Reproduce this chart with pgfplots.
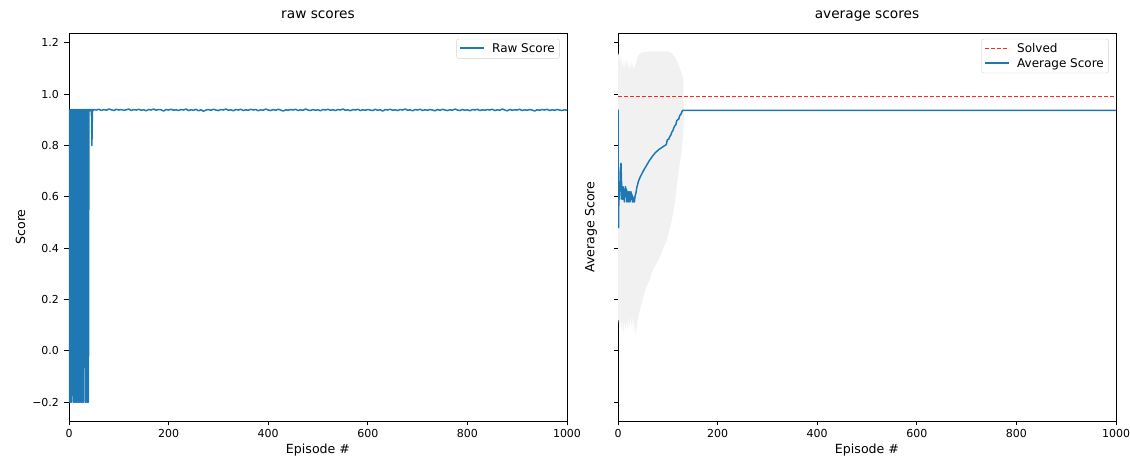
\documentclass[border=0pt]{standalone}
\usepackage{fontspec}
\setmainfont{DejaVu Sans}
\usepackage{pgfplots}
\pgfplotsset{compat=1.18}
\definecolor{mplblue}{HTML}{1F77B4}
\definecolor{bandgray}{RGB}{241,241,241}
\definecolor{solvedred}{RGB}{255,40,40}
\begin{document}
\begin{tikzpicture}
\useasboundingbox (-69pt,-41pt) rectangle (1061pt,421pt);
\pgfplotsset{
  every axis/.append style={
    anchor=south west,
    scale only axis, width=498pt, height=388pt,
    xmin=0, xmax=1000, ymin=-0.273, ymax=1.238,
    xtick={0,200,400,600,800,1000},
    ytick={-0.2,0,0.2,0.4,0.6,0.8,1.0,1.2},
    tick align=outside, tick pos=left,
    major tick length=4.5pt,
    tick style={black, line width=0.8pt},
    axis line style={line width=0.8pt},
    /pgf/number format/assume math mode=true,
    /pgf/number format/1000 sep={},
    tick label style={font=\fontsize{11}{13}\selectfont},
    yticklabel style={xshift=-2pt},
    label style={font=\fontsize{12.6}{15}\selectfont},
    title style={font=\fontsize{13.7}{16}\selectfont, at={(0.5,1)}, anchor=base, yshift=8pt},
    legend style={font=\fontsize{12}{14}\selectfont, at={(0.985,0.985)}, anchor=north east,
      draw=black!18, rounded corners=2pt, row sep=0pt, inner sep=2.5pt,
      /tikz/every odd column/.append style={column sep=5pt}},
    legend image code/.code={\draw[#1] (0pt,0.3pt) -- (24pt,0.3pt);},
    legend cell align=left,
  }
}
% ---------------- left: raw scores ----------------
\begin{axis}[
  at={(0pt,0pt)},
  title={raw scores},
  xlabel={Episode \#}, ylabel={Score},
  yticklabels={−0.2,0.0,0.2,0.4,0.6,0.8,1.0,1.2},
]
\addlegendimage{mplblue, line width=2pt, yshift=0.5pt}
\addlegendentry{Raw Score}
\addplot[mplblue, line width=1.5pt, line join=round, forget plot] coordinates {
(0,0.94)(1,-0.2)(2,0.94)(3,-0.2)(4,0.94)(5,-0.2)(6,0.94)(7,0.94)(8,0.94)(9,-0.2)
(10,0.94)(11,-0.2)(12,0.94)(13,-0.2)(14,0.94)(15,-0.2)(16,0.94)(17,-0.2)(18,0.94)(19,-0.2)
(20,0.94)(21,-0.2)(22,0.94)(23,-0.2)(24,0.94)(25,-0.2)(26,0.94)(27,-0.2)(28,0.94)(29,-0.2)
(30,0.94)(31,0.94)(32,0.94)(33,-0.2)(34,0.94)(35,-0.2)(36,0.94)(37,-0.2)(38,0.94)(39,-0.2)
(40,0.94)(41,0.94)(42,0.935)(43,0.94)(44,0.938)(45,0.94)(46,0.80)(47,0.936)(48,0.94)(49,0.937)
(50,0.94)(55,0.938)(60,0.941)(65,0.936)(70,0.940)(75,0.937)(80,0.942)(85,0.939)(90,0.936)(95,0.941)
(100,0.938)(105,0.940)(110,0.937)(115,0.939)(120,0.942)(125,0.936)(130,0.940)(135,0.938)(140,0.941)(145,0.937)
(150,0.939)(155,0.935)(160,0.940)(165,0.938)(170,0.942)(175,0.937)(180,0.940)(185,0.939)(190,0.934)(195,0.940)
(200,0.938)(205,0.941)(210,0.937)(215,0.939)(220,0.936)(225,0.940)(230,0.938)(235,0.942)(240,0.936)(245,0.939)
(250,0.937)(255,0.941)(260,0.935)(265,0.939)(270,0.933)(275,0.938)(280,0.940)(285,0.937)(290,0.941)(295,0.938)
(300,0.936)(305,0.940)(310,0.938)(315,0.942)(320,0.937)(325,0.939)(330,0.935)(335,0.940)(340,0.938)(345,0.941)
(350,0.936)(355,0.939)(360,0.937)(365,0.941)(370,0.938)(375,0.940)(380,0.935)(385,0.939)(390,0.937)(395,0.942)
(400,0.938)(405,0.936)(410,0.940)(415,0.937)(420,0.941)(425,0.938)(430,0.934)(435,0.939)(440,0.937)(445,0.940)
(450,0.938)(455,0.941)(460,0.936)(465,0.939)(470,0.937)(475,0.942)(480,0.938)(485,0.936)(490,0.940)(495,0.937)
(500,0.939)(505,0.935)(510,0.940)(515,0.938)(520,0.941)(525,0.937)(530,0.939)(535,0.936)(540,0.940)(545,0.938)
(550,0.942)(555,0.937)(560,0.939)(565,0.935)(570,0.940)(575,0.938)(580,0.941)(585,0.936)(590,0.939)(595,0.937)
(600,0.940)(605,0.938)(610,0.936)(615,0.941)(620,0.937)(625,0.939)(630,0.934)(635,0.940)(640,0.938)(645,0.941)
(650,0.937)(655,0.939)(660,0.936)(665,0.940)(670,0.938)(675,0.942)(680,0.937)(685,0.939)(690,0.935)(695,0.940)
(700,0.938)(705,0.941)(710,0.936)(715,0.939)(720,0.937)(725,0.940)(730,0.938)(735,0.935)(740,0.940)(745,0.937)
(750,0.941)(755,0.938)(760,0.936)(765,0.939)(770,0.937)(775,0.942)(780,0.938)(785,0.936)(790,0.940)(795,0.937)
(800,0.939)(805,0.935)(810,0.940)(815,0.938)(820,0.941)(825,0.936)(830,0.939)(835,0.937)(840,0.940)(845,0.938)
(850,0.941)(855,0.936)(860,0.939)(865,0.937)(870,0.942)(875,0.938)(880,0.935)(885,0.940)(890,0.937)(895,0.939)
(900,0.938)(905,0.941)(910,0.936)(915,0.939)(920,0.937)(925,0.940)(930,0.938)(935,0.934)(940,0.939)(945,0.937)
(950,0.940)(955,0.938)(960,0.941)(965,0.936)(970,0.939)(975,0.937)(980,0.940)(985,0.938)(990,0.936)(995,0.939)
(1000,0.937)
};
\end{axis}
% ---------------- right: average scores ----------------
\begin{axis}[
  at={(549pt,0pt)},
  title={average scores},
  xlabel={Episode \#}, ylabel={Average Score},
  yticklabels={},
  ylabel shift=4pt,
]
\addlegendimage{solvedred, line width=1pt, dash pattern=on 4pt off 2pt}
\addlegendentry{Solved}
\addlegendimage{mplblue, line width=1.8pt}
\addlegendentry{Average Score}
\addplot[fill=bandgray, draw=none, forget plot] coordinates {
(0,1.15)(2,1.16)(4,1.12)(6,1.15)(8,1.10)(10,1.14)(12,1.09)(14,1.13)(16,1.11)(18,1.14)
(20,1.10)(22,1.12)(24,1.09)(26,1.13)(28,1.10)(30,1.12)(32,1.09)(34,1.11)(36,1.12)(38,1.14)
(42,1.155)(48,1.162)(60,1.165)(80,1.167)(100,1.166)(108,1.16)(112,1.15)(117,1.135)(121,1.116)
(125,1.095)(128,1.08)(131,1.06)(131.5,0.95)(133,0.937)
(131.5,0.87)(130,0.82)(128,0.78)(124,0.73)(121,0.69)(118,0.64)(115,0.587)(112,0.55)(108,0.509)
(103,0.47)(98,0.432)(91,0.40)(84,0.367)(76,0.335)(69,0.31)(64,0.28)(55,0.238)(48,0.19)(41,0.134)
(38,0.10)(36,0.06)(35,0.08)(34,0.12)(33,0.065)(32,0.13)(30,0.08)(29,0.14)(27,0.09)(25,0.14)
(23,0.09)(21,0.13)(19,0.08)(17,0.12)(15,0.08)(13,0.12)(11,0.07)(9,0.11)(7,0.08)(5,0.12)
(3,0.09)(1,0.12)(0,0.12)
} -- cycle;
\addplot[solvedred, line width=1pt, dash pattern=on 4pt off 2pt, forget plot] coordinates {(0,0.99)(1000,0.99)};
\addplot[mplblue, line width=1.5pt, line join=round, forget plot] coordinates {
(0,0.94)(1,0.48)(2,0.65)(3,0.59)(4,0.62)(5,0.70)(6,0.73)(7,0.66)(8,0.59)(9,0.62)
(10,0.64)(11,0.59)(12,0.63)(13,0.58)(14,0.62)(15,0.64)(16,0.60)(17,0.63)(18,0.58)(19,0.61)
(20,0.62)(21,0.58)(22,0.61)(23,0.62)(24,0.58)(25,0.60)(26,0.62)(27,0.59)(28,0.61)(29,0.58)
(30,0.60)(31,0.58)(32,0.59)(33,0.58)(34,0.60)(36,0.615)(38,0.638)(41,0.66)(44,0.675)(48,0.69)
(52,0.705)(56,0.718)(62,0.738)(68,0.755)(75,0.772)(82,0.784)(88,0.792)(94,0.80)(97,0.803)(99,0.822)
(102,0.825)(104,0.835)(106,0.84)(108,0.852)(110,0.857)(112,0.868)(114,0.877)(116,0.88)(118,0.897)(120,0.90)
(122,0.903)(124,0.917)(126,0.92)(128,0.93)(130,0.937)(400,0.937)(700,0.937)(1000,0.937)
};
\end{axis}
\end{tikzpicture}
\end{document}
